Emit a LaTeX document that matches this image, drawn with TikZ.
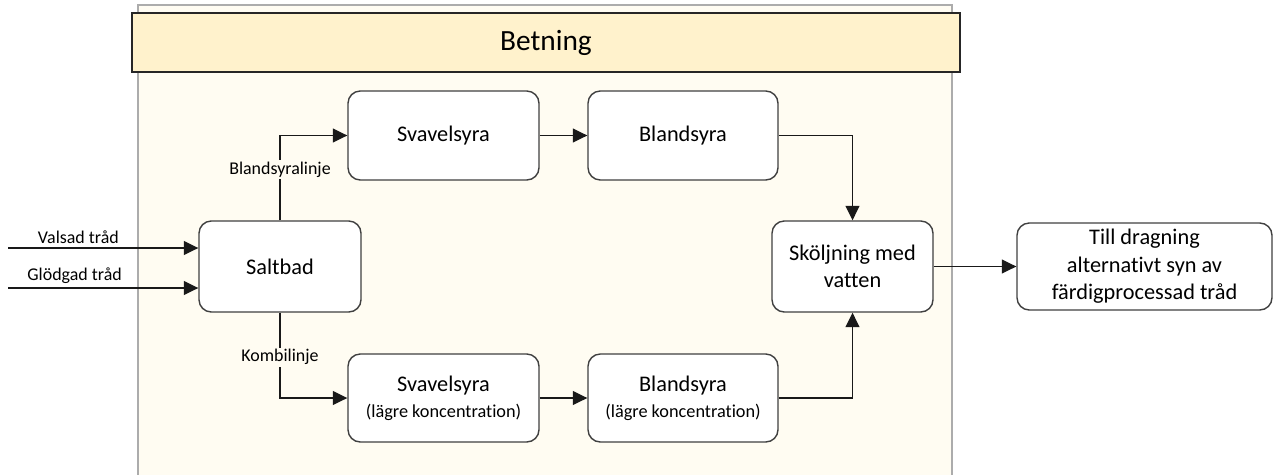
\documentclass[tikz,border=0pt]{standalone}
\usepackage{fontspec}
\setmainfont{Carlito}[Ligatures=NoCommon]
\usetikzlibrary{arrows.meta, positioning, calc}

\definecolor{poolbg}{HTML}{FFFCF2}
\definecolor{headbg}{HTML}{FFF2CC}
\definecolor{lineclr}{HTML}{404040}

\tikzset{
  box/.style={
    draw=lineclr, line width=0.8pt, rounded corners=7pt, fill=white,
    align=center, inner sep=2pt,
    font=\fontsize{12.7}{15.6}\selectfont
  },
  lanehead/.style={
    draw=black!85, line width=1pt, fill=headbg,
    minimum width=16.56cm, minimum height=1.18cm,
    font=\fontsize{16.7}{20}\selectfont
  },
  arr/.style={-{Triangle[length=2.9mm,width=2.8mm]}, line width=0.8pt, draw=black!90},
  lbl/.style={font=\fontsize{10.2}{12}\selectfont, inner sep=1pt},
}
\newcommand{\lagre}{\\[-1pt]\fontsize{10.4}{12.5}\selectfont (lägre koncentration)}

\begin{document}
\begin{tikzpicture}
    \useasboundingbox (0,0) rectangle (25.46,-9.5);

    % Pool
    \fill[poolbg] (2.76,-0.10) rectangle (19.04,-9.7);
    \draw[gray!65, line width=0.8pt] (2.76,-9.7) -- (2.76,-0.10) -- (19.04,-0.10) -- (19.04,-9.7);
    \node[lanehead] (betning) at (10.92,-0.85) {Betning};

    % Main objects
    \node[box, minimum width=3.24cm, minimum height=1.82cm] (saltbad) at (5.60,-5.33) {Saltbad};
    \node[box, minimum width=3.82cm, minimum height=1.78cm] (svavel) at (8.87,-2.71) {Svavelsyra};
    \node[box, minimum width=3.80cm, minimum height=1.78cm] (bland) at (13.66,-2.71) {Blandsyra};
    \node[box, minimum width=3.82cm, minimum height=1.76cm] (svavellag) at (8.87,-7.96) {Svavelsyra\lagre};
    \node[box, minimum width=3.80cm, minimum height=1.76cm] (blandlag) at (13.66,-7.96) {Blandsyra\lagre};
    \node[box, minimum width=3.22cm, minimum height=1.82cm] (skolj) at (17.05,-5.33) {Sköljning med\\vatten};
    \node[box, minimum width=5.10cm, minimum height=1.74cm] (drag) at (22.89,-5.33)
      {Till dragning\\alternativt syn av\\färdigprocessad tråd};

    % Inputs
    \coordinate (valsad) at (0.16,-4.96);
    \coordinate (glodgad) at (0.16,-5.76);
    \draw[arr] (valsad) -- node[lbl, above=1pt, pos=0.37] {Valsad tråd} (valsad -| saltbad.west);
    \draw[arr] (glodgad) -- node[lbl, above=1pt, pos=0.35] {Glödgad tråd} (glodgad -| saltbad.west);

    % Lines
    \draw[arr] (saltbad.north) -- node[lbl, fill=poolbg, pos=0.6] {Blandsyralinje} (saltbad.north |- svavel.west) -- (svavel.west);
    \draw[arr] (saltbad.south) -- node[lbl, fill=poolbg, pos=0.52] {Kombilinje} (saltbad.south |- svavellag.west) -- (svavellag.west);
    \draw[arr] (svavel) -- (bland);
    \draw[arr] (svavellag) -- (blandlag);
    \draw[arr] (bland.east) -| (skolj.north);
    \draw[arr] (blandlag.east) -| (skolj.south);
    \draw[arr] (skolj) -- (drag);

\end{tikzpicture}
\end{document}
